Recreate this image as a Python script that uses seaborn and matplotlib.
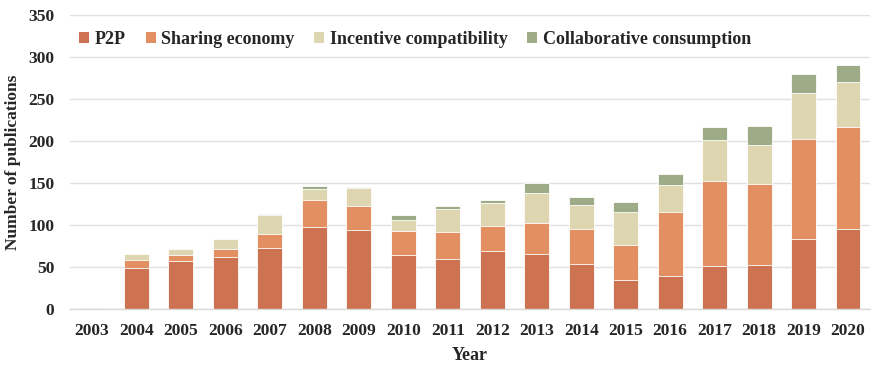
import numpy as np
import pandas as pd
import matplotlib
matplotlib.use("Agg")
import matplotlib.pyplot as plt
import seaborn as sns
from matplotlib.patches import Patch
from matplotlib.ticker import FixedLocator

years = [str(y) for y in range(2003, 2021)]
p2p = [1, 49, 57, 62, 73, 98, 94, 64, 60, 69, 66, 54, 35, 39, 51, 53, 83, 95]
sharing = [0, 9, 8, 10, 16, 32, 29, 29, 32, 30, 36, 41, 41, 76, 101, 96, 120, 122]
incentive = [0, 8, 6, 11, 23, 13, 21, 13, 27, 27, 36, 29, 39, 33, 49, 46, 54, 53]
collab = [0, 0, 0, 0, 1, 3, 1, 6, 4, 4, 12, 9, 12, 13, 16, 23, 23, 20]

series_names = ["P2P", "Sharing economy", "Incentive compatibility", "Collaborative consumption"]
colors = ["#CD7352", "#E29062", "#DDD6B0", "#9DAB86"]

sns.set_theme(style="white")
plt.rcParams['font.family'] = ['Liberation Serif', 'DejaVu Serif']
plt.rcParams['font.weight'] = 'bold'

df = pd.DataFrame({"Year": years, "P2P": p2p, "Sharing economy": sharing,
                   "Incentive compatibility": incentive, "Collaborative consumption": collab})
cum = df[series_names].cumsum(axis=1)

fig = plt.figure(figsize=(8.72, 3.65), dpi=100)
ax = fig.add_axes([0.080, 0.153, 0.918, 0.806])

for name, col in reversed(list(zip(series_names, colors))):
    sns.barplot(x=df["Year"], y=cum[name], color=col, width=0.56, ax=ax,
                edgecolor="white", linewidth=0.6, saturation=1, zorder=3)

ax.set_ylim(0, 350)
ax.set_xlim(-0.5, len(years) - 0.5)
ax.set_yticks(range(0, 351, 50))
ax.yaxis.grid(True, color="#E0E0E0", linewidth=1.0, zorder=0)
ax.set_axisbelow(True)
for s in ["left", "right", "top"]:
    ax.spines[s].set_visible(False)
ax.spines["bottom"].set_color("#D9D9D9")
ax.spines["bottom"].set_linewidth(1.0)
ax.spines["bottom"].set_zorder(4)

ax.tick_params(axis="x", which="major", length=0, pad=10, labelsize=12.6)
ax.xaxis.set_minor_locator(FixedLocator(np.arange(-0.5, len(years), 1.0)))
ax.tick_params(axis="x", which="minor", length=4, color="#D9D9D9", width=1.0)
ax.tick_params(axis="y", length=0, pad=11, labelsize=12.6)
for lab in ax.get_xticklabels() + ax.get_yticklabels():
    lab.set_fontweight("bold")

ax.set_xlabel("Year", fontsize=13, fontweight="bold", labelpad=6)
ax.set_ylabel("Number of publications", fontsize=12.5, fontweight="bold", labelpad=5)

handles = [Patch(facecolor=c, edgecolor="none") for c in colors]
ax.legend(handles, series_names, loc="upper left", bbox_to_anchor=(-0.006, 0.995), ncol=4,
          frameon=False, prop={"weight": "bold", "size": 13},
          handlelength=0.55, handleheight=0.55, handletextpad=0.3, columnspacing=1.1,
          borderaxespad=0.4)

fig.savefig("out.png", dpi=100)
